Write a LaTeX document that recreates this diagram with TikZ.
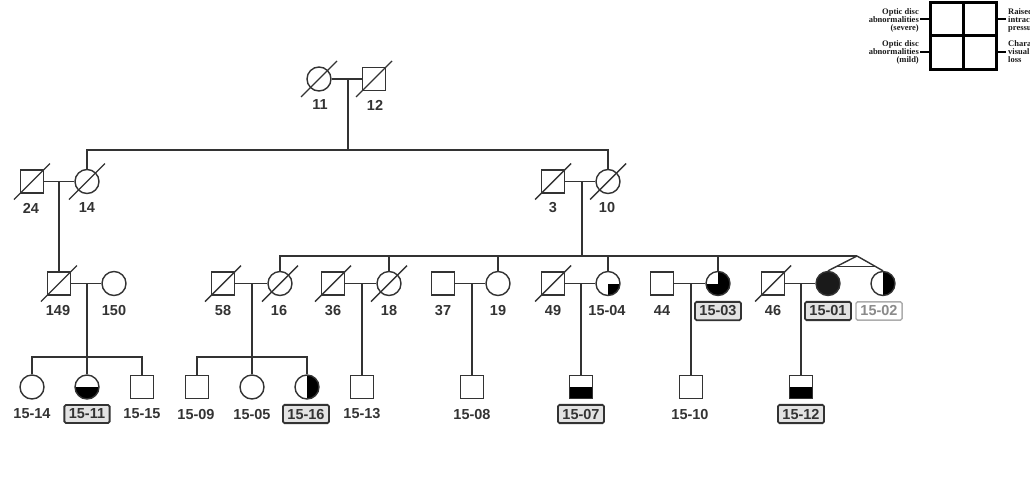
\documentclass[tikz,border=0pt]{standalone}
\usepackage{fontspec}
\setmainfont{Liberation Sans}
\newfontfamily\legendfont{Liberation Serif}
\usetikzlibrary{calc}
\definecolor{ink}{HTML}{333333}
\definecolor{solid}{HTML}{1A1A1A}
\definecolor{pale}{HTML}{8A8A8A}
\begin{document}
\begin{tikzpicture}[x=1pt,y=1pt,
  line/.style={ink, line width=1.4pt},
  male/.style={draw=ink, rectangle, minimum size=23pt, inner sep=0pt, line width=1.4pt},
  female/.style={draw=ink, circle, minimum size=24pt, inner sep=0pt, line width=1.4pt},
  qbr/.style={path picture={\fill[solid] (path picture bounding box.center) rectangle (path picture bounding box.south east);}},
  bhalf/.style={path picture={\fill[solid] (path picture bounding box.west) rectangle (path picture bounding box.south east);}},
  rhalf/.style={path picture={\fill[solid] (path picture bounding box.north) rectangle (path picture bounding box.south east);}},
  threeq/.style={path picture={\fill[solid] (path picture bounding box.north) rectangle (path picture bounding box.south east);
                               \fill[solid] (path picture bounding box.west) rectangle (path picture bounding box.south);}},
  full/.style={fill=solid},
  lab/.style={font=\bfseries\fontsize{14.5}{14.5}\selectfont, text=ink, inner sep=1pt},
  idbox/.style={lab, draw=ink, fill=gray!22, rounded corners=1.5pt, line width=1.8pt, inner xsep=4.5pt, inner ysep=4pt},
  paleid/.style={lab, text=pale, draw=pale!70, fill=white, rounded corners=1.5pt, line width=1.4pt, inner xsep=4.5pt, inner ysep=4pt},
  legtext/.style={font=\legendfont\bfseries\fontsize{8.5}{8}\selectfont, text=solid, inner sep=0pt}
]
\useasboundingbox (0,0) rectangle (1030,-496);
\newcommand\dead[1]{\draw[line] ($(#1)+(-18,-18)$) -- ($(#1)+(18,18)$);}

% ---------- generation I ----------
\node[female] (p11) at (319,-79) {};
\node[male]   (p12) at (374,-79) {};
\dead{p11}\dead{p12}
\node[lab] (l11) at (320,-105) {11};
\node[lab] (l12) at (375,-105) {12};

% ---------- generation II ----------
\node[male]   (p24) at (32,-181.5) {};
\node[female] (p14) at (87,-181.5) {};
\node[male]   (p3)  at (553,-181.5) {};
\node[female] (p10) at (608,-181.5) {};
\dead{p24}\dead{p14}\dead{p3}\dead{p10}
\node[lab] (l24) at (31,-208) {24};
\node[lab] (l14) at (87,-208) {14};
\node[lab] (l3)  at (553,-208) {3};
\node[lab] (l10) at (607,-208) {10};

% ---------- generation III ----------
\node[male]   (p149) at (59,-283.5) {};
\node[female] (p150) at (114,-283.5) {};
\node[male]   (p58)  at (223,-283.5) {};
\node[female] (p16)  at (280,-283.5) {};
\node[male]   (p36)  at (333,-283.5) {};
\node[female] (p18)  at (389,-283.5) {};
\node[male]   (p37)  at (443,-283.5) {};
\node[female] (p19)  at (498,-283.5) {};
\node[male]   (p49)  at (553,-283.5) {};
\node[female,qbr]    (p1504) at (608,-283.5) {};
\node[male]   (p44)  at (662,-283.5) {};
\node[female,threeq] (p1503) at (718,-283.5) {};
\node[male]   (p46)  at (773,-283.5) {};
\node[female,full]   (p1501) at (828,-283.5) {};
\node[female,rhalf]  (p1502) at (883,-283.5) {};
\dead{p149}\dead{p58}\dead{p16}\dead{p36}\dead{p18}\dead{p49}\dead{p46}
\node[lab] (l149) at (58,-311) {149};
\node[lab] (l150) at (114,-311) {150};
\node[lab] (l58)  at (223,-311) {58};
\node[lab] (l16)  at (279,-311) {16};
\node[lab] (l36)  at (333,-311) {36};
\node[lab] (l18)  at (389,-311) {18};
\node[lab] (l37)  at (443,-311) {37};
\node[lab] (l19)  at (498,-311) {19};
\node[lab] (l49)  at (553,-311) {49};
\node[lab] (l1504) at (607,-311) {15-04};
\node[lab] (l44)  at (662,-311) {44};
\node[idbox] (l1503) at (718,-311) {15-03};
\node[lab] (l46)  at (773,-311) {46};
\node[idbox] (l1501) at (828,-311) {15-01};
\node[paleid] (l1502) at (879,-311) {15-02};

% ---------- generation IV ----------
\node[female]       (p1514) at (32,-387) {};
\node[female,bhalf] (p1511) at (87,-387) {};
\node[male]         (p1515) at (142,-387) {};
\node[male]         (p1509) at (197,-387) {};
\node[female]       (p1505) at (252,-387) {};
\node[female,rhalf] (p1516) at (307,-387) {};
\node[male]         (p1513) at (362,-387) {};
\node[male]         (p1508) at (472,-387) {};
\node[male,bhalf]   (p1507) at (581,-387) {};
\node[male]         (p1510) at (691,-387) {};
\node[male,bhalf]   (p1512) at (801,-387) {};
\node[lab]   (l1514) at (32,-414) {15-14};
\node[idbox] (l1511) at (87,-414) {15-11};
\node[lab]   (l1515) at (142,-414) {15-15};
\node[lab]   (l1509) at (196,-414) {15-09};
\node[lab]   (l1505) at (252,-414) {15-05};
\node[idbox] (l1516) at (306,-414) {15-16};
\node[lab]   (l1513) at (362,-414) {15-13};
\node[lab]   (l1508) at (472,-414) {15-08};
\node[idbox] (l1507) at (581,-414) {15-07};
\node[lab]   (l1510) at (690,-414) {15-10};
\node[idbox] (l1512) at (801,-414) {15-12};

% ---------- junction points ----------
\coordinate (m1) at (348,-79);   \coordinate (s1) at (348,-150);
\coordinate (s1l) at (87,-150);  \coordinate (s1r) at (608,-150);
\coordinate (m2) at (59,-181.5);
\coordinate (m3) at (582,-181.5);  \coordinate (s3) at (582,-256);
\coordinate (s3l) at (280,-256); \coordinate (twin) at (857,-256);
\coordinate (m4) at (87,-283.5);   \coordinate (s4) at (87,-357);
\coordinate (m5) at (252,-283.5);  \coordinate (s5) at (252,-357);
\coordinate (m6) at (362,-283.5);
\coordinate (m7) at (472,-283.5);
\coordinate (m8) at (581,-283.5);
\coordinate (m9) at (691,-283.5);
\coordinate (m10) at (801,-283.5);

% ---------- connectors ----------
\begin{scope}[line]
  % generation I couple and sibship
  \draw (p11) -- (p12);
  \draw (m1) -- (s1);
  \draw (p14.north) -- (s1l) -- (s1r) -- (p10.north);
  % left branch
  \draw (p24) -- (p14);
  \draw (m2) -- (p149.north);
  \draw (p149) -- (p150);
  \draw (m4) -- (s4);
  \draw (p1514.north) |- (s4) -| (p1515.north);
  \draw (s4) -- (p1511.north);
  % right branch
  \draw (p3) -- (p10);
  \draw (m3) -- (s3);
  \draw (p16.north) -- (s3l) -- (twin);
  \draw (p18.north) -- (p18.north |- s3);
  \draw (p19.north) -- (p19.north |- s3);
  \draw (p1504.north) -- (p1504.north |- s3);
  \draw (p1503.north) -- (p1503.north |- s3);
  % monozygotic twins
  \draw (twin) -- (p1501.north);
  \draw (twin) -- (p1502.north);
  \draw ($(twin)!0.7!(p1501.north)$) -- ($(twin)!0.7!(p1502.north)$);
  % couples of generation III and their children
  \draw (p58) -- (p16);
  \draw (m5) -- (s5);
  \draw (p1509.north) |- (s5) -| (p1516.north);
  \draw (s5) -- (p1505.north);
  \draw (p36) -- (p18);
  \draw (m6) -- (p1513.north);
  \draw (p37) -- (p19);
  \draw (m7) -- (p1508.north);
  \draw (p49) -- (p1504);
  \draw (m8) -- (p1507.north);
  \draw (p44) -- (p1503);
  \draw (m9) -- (p1510.north);
  \draw (p46) -- (p1501);
  \draw (m10) -- (p1512.north);
\end{scope}

% ---------- key to the quadrants ----------
\draw[solid, line width=3pt] (930,-2.5) rectangle (996,-69);
\draw[solid, line width=3pt] (963,-2.5) -- (963,-69);
\draw[solid, line width=3pt] (930,-35.5) -- (996,-35.5);
\draw[solid, line width=2.5pt] (920,-19) -- (930,-19);
\draw[solid, line width=2.5pt] (920,-52) -- (930,-52);
\draw[solid, line width=2.5pt] (996,-19) -- (1006,-19);
\draw[solid, line width=2.5pt] (996,-52) -- (1006,-52);
\node[legtext, anchor=east, align=right] (k1) at (919,-20) {Optic disc\\abnormalities\\(severe)};
\node[legtext, anchor=east, align=right] (k2) at (919,-52) {Optic disc\\abnormalities\\(mild)};
\node[legtext, anchor=west, align=left]  (k3) at (1008,-20) {Raised\\intracranial\\pressure};
\node[legtext, anchor=west, align=left]  (k4) at (1008,-52) {Characteristic\\visual\\loss};
\end{tikzpicture}
\end{document}
